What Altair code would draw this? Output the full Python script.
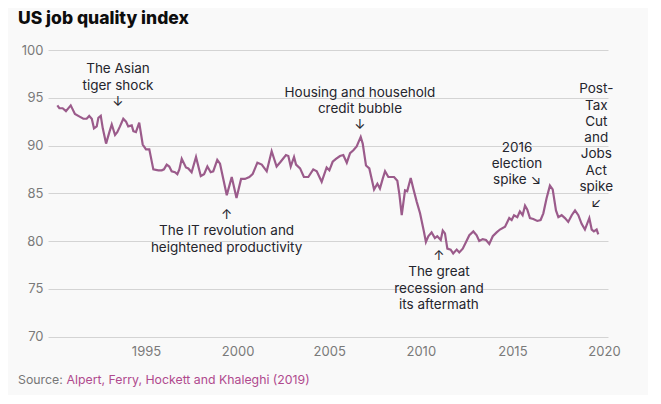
import altair as alt
import pandas as pd

years = [1990.16,1990.27,1990.45,1990.63,1990.89,1991.12,1991.40,1991.58,1991.76,1991.90,
         1992.04,1992.16,1992.31,1992.40,1992.53,1992.64,1992.82,1993.00,1993.13,1993.31,
         1993.43,1993.58,1993.76,1993.91,1994.03,1994.22,1994.31,1994.45,1994.63,1994.82,
         1995.00,1995.18,1995.40,1995.67,1995.86,1995.98,1996.13,1996.27,1996.40,1996.58,
         1996.71,1996.82,1996.95,1997.18,1997.31,1997.49,1997.73,1997.99,1998.17,1998.35,
         1998.53,1998.67,1998.89,1999.04,1999.41,1999.68,1999.94,2000.19,2000.40,2000.64,
         2000.82,2001.08,2001.32,2001.59,2001.86,2002.13,2002.35,2002.64,2002.77,2002.90,
         2003.08,2003.19,2003.41,2003.62,2003.86,2004.13,2004.32,2004.59,2004.86,2005.01,
         2005.19,2005.37,2005.59,2005.77,2005.96,2006.14,2006.32,2006.50,2006.72,2006.83,
         2007.01,2007.19,2007.45,2007.63,2007.77,2007.92,2008.05,2008.23,2008.41,2008.54,
         2008.72,2008.83,2008.96,2009.14,2009.26,2009.45,2009.59,2009.78,2009.96,2010.17,
         2010.28,2010.41,2010.59,2010.77,2010.90,2011.09,2011.20,2011.32,2011.45,2011.63,
         2011.77,2011.96,2012.10,2012.29,2012.47,2012.65,2012.87,2013.05,2013.19,2013.38,
         2013.56,2013.74,2013.93,2014.14,2014.32,2014.60,2014.83,2014.96,2015.09,2015.27,
         2015.41,2015.56,2015.69,2015.81,2015.96,2016.14,2016.36,2016.54,2016.69,2016.87,
         2017.05,2017.20,2017.38,2017.51,2017.69,2017.87,2018.05,2018.24,2018.42,2018.60,
         2018.78,2018.96,2019.20,2019.33,2019.45,2019.60,2019.69]

index_values = [94.2,93.9,93.9,93.6,94.2,93.3,93.0,92.8,92.8,93.1,
                92.8,91.8,92.0,92.9,93.1,91.8,90.2,91.4,92.2,91.1,
                91.4,92.0,92.8,92.5,92.0,92.1,91.5,91.4,92.4,90.1,
                89.6,89.6,87.5,87.4,87.4,87.5,88.0,87.8,87.3,87.2,
                87.0,87.5,88.6,87.7,87.6,87.2,88.8,86.8,87.0,87.8,
                87.2,87.3,88.5,88.1,84.8,86.7,84.5,86.5,86.5,86.7,
                87.0,88.2,88.0,87.3,89.4,87.8,88.3,89.0,88.9,87.8,
                88.8,88.0,87.6,86.7,86.7,87.5,87.3,86.2,87.7,87.4,
                88.3,88.6,88.9,89.0,88.2,89.2,89.5,89.9,90.9,90.2,
                87.9,87.6,85.4,86.0,85.5,86.5,87.3,86.7,86.7,86.7,
                86.3,84.9,82.7,85.3,85.2,86.6,85.5,84.1,82.9,81.0,
                79.9,80.5,80.9,80.3,80.5,80.1,81.1,80.8,79.2,79.1,
                78.7,79.1,78.8,79.2,79.9,80.6,81.0,80.6,80.0,80.2,
                80.1,79.7,80.5,80.9,81.2,81.5,82.4,82.2,82.7,82.5,
                83.1,82.7,83.7,83.3,82.4,82.3,82.1,82.2,82.9,84.5,
                85.8,85.4,83.2,82.5,82.7,82.4,82.0,82.7,83.2,82.7,
                81.8,81.2,82.4,81.2,81.0,81.2,80.7]

x_ticks = [1995, 2000, 2005, 2010, 2015, 2020]
y_ticks = [70, 75, 80, 85, 90, 95, 100]

ann_text = ["The Asian\ntiger shock\n↓",
            "Housing and household\ncredit bubble\n↓",
            "↑\nThe IT revolution and\nheightened productivity",
            "↑\nThe great\nrecession and\nits aftermath",
            "2016\nelection\nspike ↘",
            "Post-\nTax\nCut\nand\nJobs\nAct\nspike\n↙"]
ann_year = [1993.47, 2006.68, 1999.40, 2010.99, 2015.25, 2019.58]
ann_value = [97.56, 95.11, 82.30, 78.01, 89.35, 95.47]

title_text = "US job quality index"
source_label = "Source:"
source_authors = "Alpert, Ferry, Hockett and Khaleghi (2019)"

FONT = "Inter"

df = pd.DataFrame({"year": years, "value": index_values})
ann = pd.DataFrame({"year": ann_year, "value": ann_value, "label": ann_text})
one = pd.DataFrame({"k": [0]})

xscale = alt.Scale(domain=[1989.65, 2020.22], nice=False, zero=False)
yscale = alt.Scale(domain=[70, 100], nice=False, zero=False)

line = alt.Chart(df).mark_line(color="#9b5b8b", strokeWidth=2.2).encode(
    x=alt.X("year:Q", scale=xscale,
            axis=alt.Axis(values=x_ticks, format="d", title=None, grid=False,
                          domain=False, ticks=False, labelFont=FONT, labelFontSize=13,
                          labelColor="#7a7a7a", labelPadding=9)),
    y=alt.Y("value:Q", scale=yscale,
            axis=alt.Axis(values=y_ticks, title=None, grid=True, gridColor="#d4d4d4",
                          gridWidth=1, domain=False, ticks=False, labelFont=FONT,
                          labelFontSize=13, labelColor="#7a7a7a", labelPadding=5)),
)

notes = alt.Chart(ann).mark_text(
    font=FONT, fontSize=13.5, color="#25252d", lineBreak="\n", lineHeight=16.3,
    align="center", baseline="alphabetic"
).encode(
    x=alt.X("year:Q", scale=xscale),
    y=alt.Y("value:Q", scale=yscale),
    text="label:N",
)

title = alt.Chart(one).mark_text(
    font=FONT, fontSize=17.5, fontWeight=800, color="#0d0d0d", align="left",
    baseline="alphabetic"
).encode(x=alt.value(-30), y=alt.value(-26), text=alt.value(title_text))

src1 = alt.Chart(one).mark_text(
    font=FONT, fontSize=12.3, color="#777777", align="left", baseline="alphabetic"
).encode(x=alt.value(-30), y=alt.value(334), text=alt.value(source_label))

src2 = alt.Chart(one).mark_text(
    font=FONT, fontSize=12.3, color="#b04a8e", align="left", baseline="alphabetic"
).encode(x=alt.value(18.5), y=alt.value(334), text=alt.value(source_authors))

chart = alt.layer(line, notes, title, src1, src2).properties(
    width=560, height=286.5,
    autosize=alt.AutoSizeParams(type="none"),
    padding={"left": 40, "top": 42, "right": 40, "bottom": 58},
    background="#f9f9f9",
).configure_view(stroke=None)

chart.save("out.html", embed_options={"renderer": "svg", "actions": False})
